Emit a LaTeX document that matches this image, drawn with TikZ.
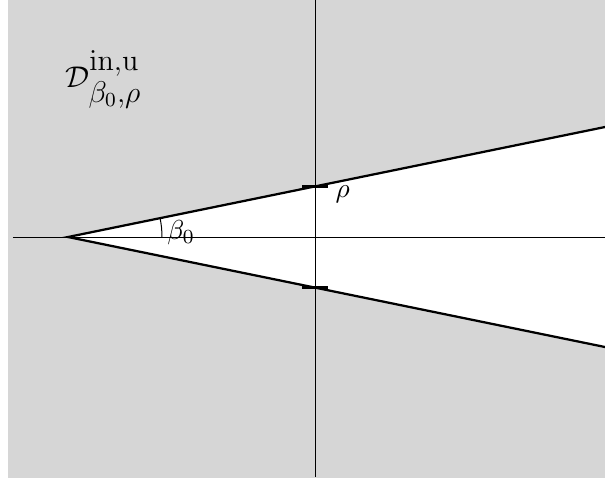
\documentclass[tikz,border=0pt]{standalone}
\usepackage{amsmath}
\usepackage{xcolor}
\definecolor{regiao}{HTML}{D6D6D6}
\usepackage{tikz}

\begin{document}
\begin{tikzpicture}[
  x=0.4pt, y=0.4pt,
  eixo/.style={line width=0.4pt, black},
  borda/.style={line width=0.9pt, black},
  marca/.style={line width=1.3pt, black},
  rotulo/.style={inner sep=0pt, anchor=base west}]
  \useasboundingbox (-315,-246) rectangle (290,237);
  % domain
  \fill[regiao] (-307,-241) rectangle (290,237);
  \coordinate (V) at (-247,0);
  \coordinate (A) at (290,110);
  \coordinate (B) at (290,-110);
  \fill[white] (V) -- (A) -- (B) -- cycle;
  % axes
  \draw[eixo] (-302,0) -- (290,0);
  \draw[eixo] (0,237) -- (0,-240);
  % sector edges
  \draw[borda] (A) -- (V) -- (B);
  % ticks
  \coordinate (P) at (0,50.6);
  \coordinate (Q) at (0,-50.6);
  \draw[marca] ([xshift=-13*0.4pt]P) -- ([xshift=13*0.4pt]P);
  \draw[marca] ([xshift=-13*0.4pt]Q) -- ([xshift=13*0.4pt]Q);
  % angle
  \draw[eixo] ([xshift=94*0.4pt]V) arc[start angle=0, end angle=11.58, radius=94];
  % labels
  \node[rotulo] (rho) at (20,40) {\fontsize{11}{13}\selectfont$\rho$};
  \node[rotulo] (beta) at (-148,-2) {\fontsize{11}{13}\selectfont$\beta_0$};
  \node[rotulo] (dom) at (-250,150) {\large$\mathcal{D}^{\textstyle\mathrm{in{,}u}}_{\textstyle\beta_0{,}\rho}$};
\end{tikzpicture}
\end{document}
